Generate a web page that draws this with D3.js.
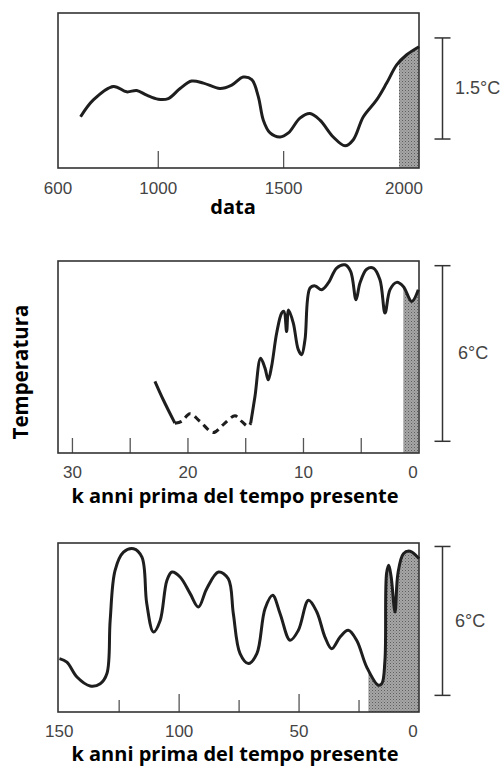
<!DOCTYPE html>
<html>
<head>
<meta charset="utf-8">
<script src="https://cdn.jsdelivr.net/npm/d3@7"></script>
<style>
  body { margin: 0; background: #fff; }
  .tick-label { font-family: "Liberation Sans", Arial, sans-serif; font-size: 17px; fill: #444; }
  .axis-title { font-family: "Open Sans", sans-serif; font-weight: bold; font-size: 20px; fill: #000; }
</style>
</head>
<body>
<svg width="504" height="767"></svg>
<script>
// panel 1 : last millennium
const medYears = [690, 741, 821, 874, 914, 954, 1000, 1040, 1087, 1133, 1180, 1246, 1293, 1339, 1373, 1399, 1419, 1446, 1486, 1519, 1565, 1605, 1645, 1698, 1745, 1778, 1818, 1871, 1911, 1951, 1991, 2040];
const medTemp = [0.76, 1.01, 1.21, 1.13, 1.15, 1.08, 1.02, 1.03, 1.18, 1.29, 1.26, 1.18, 1.23, 1.35, 1.31, 1.06, 0.71, 0.52, 0.46, 0.52, 0.74, 0.81, 0.71, 0.46, 0.33, 0.42, 0.76, 1.01, 1.26, 1.53, 1.68, 1.80];
const medTicks = [1000, 1500];
const medLabels = [600, 1000, 1500, 2000];

// panel 2 : last 30k years (solid start, dashed glacial part, solid rest)
const holoKa1 = [22.86, 22.14, 21.13];
const holoT1 = [2.45, 1.82, 1.02];
const holoKaDash = [21.13, 20.55, 19.83, 18.96, 17.81, 16.94, 15.93, 15.35, 14.78, 14.57];
const holoTDash = [1.02, 1.08, 1.34, 1.08, 0.70, 0.97, 1.27, 1.08, 0.91, 1.02];
const holoKa2 = [14.57, 14.2, 13.71, 13.33, 13.05, 12.76, 12.32, 11.89, 11.69, 11.46, 11.29, 10.88, 10.45, 10.16, 9.87, 9.44, 9.0, 8.43, 7.85, 7.13, 6.41, 5.91, 5.45, 5.11, 4.53, 3.95, 3.38, 2.94, 2.51, 1.93, 1.36, 0.63, 0.06];
const holoT2 = [1.02, 1.93, 3.24, 2.90, 2.50, 2.96, 4.10, 4.78, 4.84, 4.15, 4.89, 4.44, 3.53, 3.36, 3.87, 5.63, 5.71, 5.58, 5.81, 6.32, 6.43, 6.20, 5.24, 5.81, 6.28, 6.32, 5.92, 4.78, 5.58, 5.83, 5.69, 5.18, 5.58];
const holoTicks = [30, 25, 20, 15, 10, 5];
const holoLabels = [30, 20, 10, 0];

// panel 3 : last 150k years
const glacKa = [149.9, 146.8, 142.6, 137.1, 132.9, 130.1, 128.75, 126.7, 123.2, 119.0, 115.5, 113.5, 110.7, 107.9, 105.1, 103.0, 99.6, 95.4, 91.96, 88.5, 83.6, 79.5, 77.4, 74.6, 71.1, 67.6, 64.2, 61.0, 57.9, 53.75, 50.3, 46.1, 42.6, 39.2, 36.4, 32.9, 29.5, 26.0, 21.8, 17.0, 15.5, 14.2, 13.5, 12.6, 11.6, 10.0, 8.8, 6.5, 3.75, 0];
const glacT = [2.15, 2.01, 1.41, 1.05, 1.14, 1.55, 3.69, 5.71, 6.44, 6.58, 6.24, 4.37, 3.22, 3.69, 5.30, 5.64, 5.44, 4.77, 4.23, 4.97, 5.64, 5.37, 3.96, 2.35, 1.95, 2.35, 4.16, 4.70, 3.96, 2.89, 3.29, 4.50, 4.03, 3.02, 2.55, 3.02, 3.29, 2.89, 1.81, 1.08, 1.14, 2.08, 5.60, 5.91, 5.44, 4.03, 5.57, 6.38, 6.48, 6.18];
const glacMajor = [100, 50];
const glacMinor = [125, 75, 25];
const glacLabels = [150, 100, 50, 0];

const svg = d3.select('svg');
const left = 58, right = 419;

// speckled grey fill like the scanned original
const pat = svg.append('defs').append('pattern')
  .attr('id', 'speckle').attr('patternUnits', 'userSpaceOnUse')
  .attr('width', 3).attr('height', 3);
pat.append('rect').attr('width', 3).attr('height', 3).attr('fill', '#a6a6a6');
pat.append('rect').attr('width', 1).attr('height', 1).attr('fill', '#5e5e5e');
pat.append('rect').attr('x', 1.5).attr('y', 1.5).attr('width', 1).attr('height', 1).attr('fill', '#7a7a7a');

function zip(xs, ys) { return xs.map((x, i) => ({ x: x, y: ys[i] })); }

function panel(cfg) {
  const g = svg.append('g');
  const x = d3.scaleLinear().domain(cfg.xDomain).range([left, right]);
  const y = d3.scaleLinear().domain(cfg.yDomain).range([cfg.bottom, cfg.top]);

  const line = d3.line().x(d => x(d.x)).y(d => y(d.y)).curve(d3.curveCatmullRom.alpha(0.5));
  const area = d3.area().x(d => x(d.x)).y0(y(0)).y1(d => y(d.y)).curve(d3.curveCatmullRom.alpha(0.5));

  // shaded recent part
  const clipId = 'clip' + cfg.id;
  g.append('clipPath').attr('id', clipId)
    .append('rect')
    .attr('x', x(cfg.shadeFrom)).attr('y', cfg.top)
    .attr('width', right - x(cfg.shadeFrom)).attr('height', cfg.bottom - cfg.top);
  g.append('path')
    .datum(cfg.shadeData)
    .attr('clip-path', `url(#${clipId})`)
    .attr('d', area)
    .attr('fill', 'url(#speckle)');

  // ticks from the bottom edge
  cfg.ticks.forEach(t => {
    g.append('line')
      .attr('x1', x(t.v)).attr('x2', x(t.v))
      .attr('y1', cfg.bottom).attr('y2', cfg.bottom - t.len)
      .attr('stroke', '#555').attr('stroke-width', 1.3);
  });

  // box
  g.append('rect')
    .attr('x', left).attr('y', cfg.top)
    .attr('width', right - left).attr('height', cfg.bottom - cfg.top)
    .attr('fill', 'none').attr('stroke', '#333').attr('stroke-width', 1.6);

  // curves
  cfg.lines.forEach(l => {
    g.append('path')
      .datum(l.data)
      .attr('d', line)
      .attr('fill', 'none')
      .attr('stroke', '#1e1e1e')
      .attr('stroke-width', 3)
      .attr('stroke-linejoin', 'round')
      .attr('stroke-dasharray', l.dash ? '7,5' : null);
  });

  // tick labels (the last one sits a bit inside the box edge, as in the original)
  const last = cfg.labels[cfg.labels.length - 1];
  g.selectAll('.tick-label')
    .data(cfg.labels)
    .enter()
    .append('text')
    .classed('tick-label', true)
    .attr('x', d => x(d) + (d === last ? cfg.lastShift : 0))
    .attr('y', cfg.labelY)
    .attr('text-anchor', 'middle')
    .text(d => d);

  // axis title
  g.append('text')
    .classed('axis-title', true)
    .attr('x', cfg.titleX)
    .attr('y', cfg.titleY)
    .attr('text-anchor', 'middle')
    .text(cfg.title);

  // temperature scale bar
  const bx = 442.5;
  const b0 = y(cfg.bar[0]), b1 = y(cfg.bar[1]);
  g.append('line').attr('x1', bx).attr('x2', bx).attr('y1', b0).attr('y2', b1)
    .attr('stroke', '#333').attr('stroke-width', 1.5);
  [b0, b1].forEach(v => {
    g.append('line').attr('x1', bx - 8).attr('x2', bx + 8).attr('y1', v).attr('y2', v)
      .attr('stroke', '#333').attr('stroke-width', 1.5);
  });
  g.append('text')
    .classed('tick-label', true)
    .style('font-size', '18px')
    .attr('x', cfg.barLabelX)
    .attr('y', (b0 + b1) / 2 + 6)
    .text(cfg.barLabel);
}

const med = zip(medYears, medTemp);
panel({
  id: 1, top: 13, bottom: 168,
  xDomain: [600, 2040], yDomain: [0, 2.30],
  lines: [{ data: med }], shadeData: med, shadeFrom: 1960,
  ticks: medTicks.map(v => ({ v: v, len: 17 })),
  labels: medLabels, labelY: 194, lastShift: -5,
  title: 'data', titleX: 233, titleY: 214,
  bar: [0.43, 1.93], barLabel: '1.5°C', barLabelX: 455
});

const holo2 = zip(holoKa2, holoT2);
panel({
  id: 2, top: 261, bottom: 453,
  xDomain: [31.25, 0], yDomain: [0, 6.56],
  lines: [{ data: zip(holoKa1, holoT1) }, { data: zip(holoKaDash, holoTDash), dash: true }, { data: holo2 }],
  shadeData: holo2, shadeFrom: 1.36,
  ticks: holoTicks.map(v => ({ v: v, len: 15 })),
  labels: holoLabels, labelY: 478, lastShift: -6,
  title: 'k anni prima del tempo presente', titleX: 235, titleY: 503,
  bar: [0.40, 6.40], barLabel: '6°C', barLabelX: 458
});

const glac = zip(glacKa, glacT);
panel({
  id: 3, top: 543, bottom: 712,
  xDomain: [150.5, 0], yDomain: [0, 6.81],
  lines: [{ data: glac }], shadeData: glac, shadeFrom: 21.1,
  ticks: glacMajor.map(v => ({ v: v, len: 18 })).concat(glacMinor.map(v => ({ v: v, len: 12 }))),
  labels: glacLabels, labelY: 737, lastShift: -6,
  title: 'k anni prima del tempo presente', titleX: 235, titleY: 761,
  bar: [0.67, 6.67], barLabel: '6°C', barLabelX: 455
});

// shared y title
svg.append('text')
  .classed('axis-title', true)
  .style('font-size', '20.5px')
  .attr('transform', 'translate(28,372) rotate(-90)')
  .attr('text-anchor', 'middle')
  .text('Temperatura');
</script>
</body>
</html>
